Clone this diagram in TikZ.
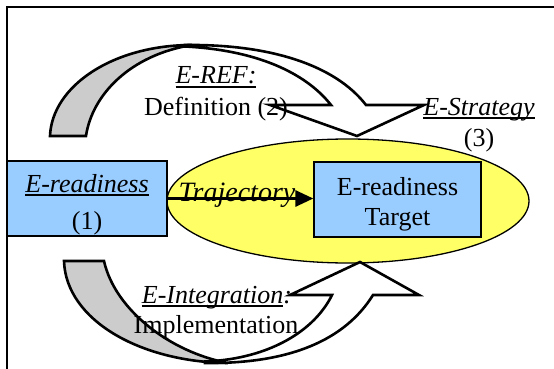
\documentclass[tikz,border=0pt]{standalone}
\usepackage{fontspec}
\setmainfont{Liberation Serif}
\usetikzlibrary{shapes.geometric,arrows.meta}

\definecolor{boxblue}{HTML}{99CCFF}
\definecolor{zoneyellow}{HTML}{FFFF66}
\definecolor{backgray}{HTML}{CCCCCC}

% thick underline under a word
\newcommand\ulword[1]{\sbox0{#1}\leavevmode\rlap{\raisebox{-3.6pt}{\rule{\wd0}{1.6pt}}}\usebox0}

\tikzset{
  box/.style={draw, line width=1.3pt, fill=boxblue, inner sep=0pt},
  zone/.style={draw, ellipse, line width=1.3pt, fill=zoneyellow, inner sep=0pt},
  txt/.style={font=\fontsize{26}{30}\selectfont, inner sep=0pt, anchor=base},
  ribbon/.style={draw, line width=2.6pt, line join=miter, fill=white},
  backband/.style={draw, line width=2.6pt, line join=miter, fill=backgray},
  traj/.style={line width=3pt, -{Triangle[length=18pt,width=16pt]}},
}

\begin{document}
\begin{tikzpicture}[x=1pt,y=-1pt]
\useasboundingbox (0,0) rectangle (554,369);

% page frame
\draw[line width=2pt] (7,369) -- (7,7) -- (554,7);

% central zone and the two boxes
\node[zone, minimum width=362pt, minimum height=124pt] (area) at (348,201) {};
\node[box, minimum width=160pt, minimum height=75pt] (ready) at (87,198.5) {};
\node[box, minimum width=167pt, minimum height=75pt] (goal) at (397.5,199.5) {};

% upper curved arrow: back band, then front ribbon with head
\draw[backband] (50,136) .. controls (52,86) and (113,45) .. (192,45)
  .. controls (130,55) and (92,95) .. (86,136) -- cycle;
\draw[ribbon] (185,45) .. controls (270,44) and (335,65) .. (366,105)
  -- (424,105) -- (357,136) -- (270,105) -- (331,105)
  .. controls (305,72) and (255,50) .. (185,46.5) -- cycle;

% lower curved arrow: back band, then front ribbon with head
\draw[backband] (64,261) .. controls (66,320) and (140,362) .. (228,363)
  .. controls (170,352) and (115,310) .. (104,261) -- cycle;
\draw[ribbon] (205,363) .. controls (290,364) and (345,340) .. (373,295)
  -- (419,295) -- (360,262) -- (290,295) -- (332,295)
  .. controls (315,330) and (270,359) .. (205,361.5) -- cycle;

% trajectory connector
\draw[traj] (ready.east) -- (ready.east -| goal.west);

% texts
\node[txt] (t1a) at (87,192) {\itshape\ulword{E-readiness}};
\node[txt] (t1b) at (87,229) {(1)};
\node[txt] (t2a) at (397.5,195) {E-readiness};
\node[txt] (t2b) at (397.5,225) {Target};
\node[txt, font=\fontsize{28}{32}\selectfont] (t3) at (237,201) {\itshape Trajectory};
\node[txt] (t4a) at (216,84) {\itshape\ulword{E-REF:}};
\node[txt] (t4b) at (216,115) {Definition (2)};
\node[txt] (t5a) at (479,115) {\itshape\ulword{E-Strategy}};
\node[txt] (t5b) at (479,146) {(3)};
\node[txt] (t6a) at (217,303) {\itshape\ulword{E-Integration}:};
\node[txt] (t6b) at (216,333) {Implementation};
\end{tikzpicture}
\end{document}
